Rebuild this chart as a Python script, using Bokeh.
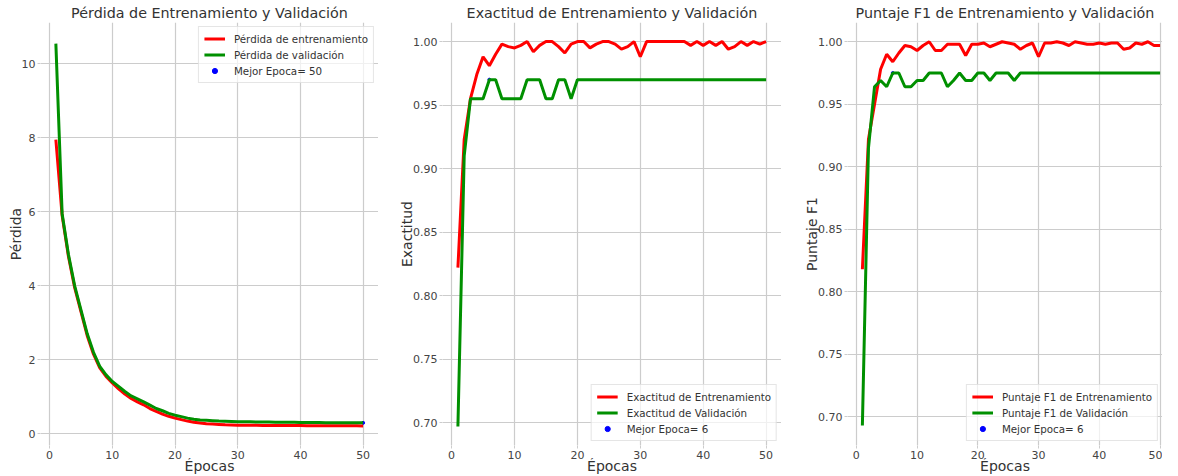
from bokeh.plotting import figure
from bokeh.layouts import row
from bokeh.models import Range1d, FixedTicker, Legend, LegendItem, NumeralTickFormatter
from bokeh.embed import file_html
from bokeh.resources import INLINE

# ---------------- data ----------------
epochs = list(range(1, 51))

train_loss = [7.95, 5.90, 4.80, 3.95, 3.30, 2.65, 2.15, 1.78, 1.55, 1.37,
              1.21, 1.07, 0.95, 0.86, 0.78, 0.68, 0.60, 0.53, 0.47, 0.42,
              0.38, 0.34, 0.31, 0.29, 0.27, 0.26, 0.25, 0.24, 0.235, 0.23,
              0.228, 0.226, 0.225, 0.224, 0.223, 0.222, 0.221, 0.22, 0.219, 0.218,
              0.217, 0.216, 0.215, 0.214, 0.213, 0.212, 0.212, 0.211, 0.211, 0.21]
val_loss = [10.55, 5.95, 4.85, 4.00, 3.35, 2.70, 2.20, 1.82, 1.59, 1.41,
            1.28, 1.14, 1.02, 0.94, 0.86, 0.77, 0.68, 0.62, 0.55, 0.50,
            0.46, 0.42, 0.39, 0.37, 0.36, 0.35, 0.34, 0.335, 0.33, 0.325,
            0.322, 0.32, 0.318, 0.316, 0.314, 0.312, 0.31, 0.308, 0.306, 0.304,
            0.302, 0.30, 0.299, 0.298, 0.297, 0.296, 0.295, 0.294, 0.293, 0.292]

train_acc = [0.822, 0.923, 0.955, 0.974, 0.988, 0.981, 0.990, 0.998, 0.996, 0.995,
             0.997, 1.000, 0.992, 0.997, 1.000, 1.000, 0.996, 0.991, 0.998, 1.000,
             1.000, 0.995, 0.998, 1.000, 1.000, 0.998, 0.994, 0.996, 1.000, 0.988,
             1.000, 1.000, 1.000, 1.000, 1.000, 1.000, 1.000, 0.997, 1.000, 0.997,
             1.000, 0.997, 1.000, 0.994, 0.996, 1.000, 0.997, 1.000, 0.998, 1.000]
val_acc = [0.697, 0.910, 0.955, 0.955, 0.955, 0.970, 0.970, 0.955, 0.955, 0.955,
           0.955, 0.970, 0.970, 0.970, 0.955, 0.955, 0.970, 0.970, 0.955, 0.970,
           0.970, 0.970, 0.970, 0.970, 0.970, 0.970, 0.970, 0.970, 0.970, 0.970,
           0.970, 0.970, 0.970, 0.970, 0.970, 0.970, 0.970, 0.970, 0.970, 0.970,
           0.970, 0.970, 0.970, 0.970, 0.970, 0.970, 0.970, 0.970, 0.970, 0.970]

train_f1 = [0.818, 0.922, 0.950, 0.978, 0.990, 0.984, 0.991, 0.997, 0.996, 0.993,
            0.997, 1.000, 0.993, 0.993, 0.998, 0.998, 0.998, 0.989, 0.998, 0.998,
            0.999, 0.996, 0.998, 1.000, 0.999, 0.998, 0.994, 0.997, 0.999, 0.988,
            0.999, 0.999, 1.000, 0.999, 0.997, 1.000, 0.999, 0.998, 0.998, 0.999,
            0.998, 0.999, 0.999, 0.994, 0.995, 0.999, 0.998, 1.000, 0.997, 0.997]
val_f1 = [0.693, 0.915, 0.964, 0.969, 0.964, 0.975, 0.975, 0.964, 0.964, 0.969,
          0.969, 0.975, 0.975, 0.975, 0.964, 0.969, 0.975, 0.969, 0.969, 0.975,
          0.975, 0.969, 0.975, 0.975, 0.975, 0.969, 0.975, 0.975, 0.975, 0.975,
          0.975, 0.975, 0.975, 0.975, 0.975, 0.975, 0.975, 0.975, 0.975, 0.975,
          0.975, 0.975, 0.975, 0.975, 0.975, 0.975, 0.975, 0.975, 0.975, 0.975]

best_loss_epoch = 50
best_acc_epoch = 6
best_f1_epoch = 6

x_ticks = [0, 10, 20, 30, 40, 50]
loss_ticks = [0, 2, 4, 6, 8, 10]
score_ticks = [0.70, 0.75, 0.80, 0.85, 0.90, 0.95, 1.00]

# ---------------- styling helpers ----------------
FONT = "DejaVu Sans"
RED = "#ff0000"
GREEN = "#009000"
GRID = "#cccccc"


def make_fig(title, width, left, right, x_end, y_range, ylabel, yticks, fmt=None):
    p = figure(width=width, height=476, title=title,
               x_range=Range1d(-1.45, x_end), y_range=Range1d(*y_range),
               output_backend="svg", toolbar_location=None,
               min_border_left=left, min_border_right=right,
               min_border_top=0, min_border_bottom=0)
    p.title.text_font = FONT
    p.title.text_font_size = "14.3px"
    p.title.text_font_style = "normal"
    p.title.text_color = "#333333"
    p.title.align = "center"
    p.title.standoff = 4
    p.outline_line_color = None
    p.background_fill_color = "white"
    p.border_fill_color = "white"
    p.grid.grid_line_color = GRID
    p.grid.grid_line_width = 1.2
    p.xaxis.ticker = FixedTicker(ticks=x_ticks)
    p.yaxis.ticker = FixedTicker(ticks=yticks)
    if fmt:
        p.yaxis.formatter = NumeralTickFormatter(format=fmt)
    p.xaxis.axis_label = "Épocas"
    p.yaxis.axis_label = ylabel
    for ax in (p.xaxis[0], p.yaxis[0]):
        ax.axis_line_color = None
        ax.major_tick_line_color = GRID
        ax.major_tick_out = 3
        ax.major_tick_in = 0
        ax.minor_tick_line_color = None
        ax.major_label_text_font = FONT
        ax.major_label_text_font_size = "11px"
        ax.major_label_text_color = "#444444"
        ax.major_label_standoff = 2
        ax.axis_label_text_font = FONT
        ax.axis_label_text_font_size = "14px"
        ax.axis_label_text_font_style = "normal"
        ax.axis_label_text_color = "#333333"
    p.xaxis.axis_label_standoff = -4
    p.yaxis.axis_label_standoff = -5
    return p


def add_series(p, tr, va, best, labels, loc):
    r3 = p.scatter([best], [va[best - 1]], size=3, color="blue")
    r1 = p.line(epochs, tr, line_color=RED, line_width=3)
    r2 = p.line(epochs, va, line_color=GREEN, line_width=3)
    leg = Legend(items=[LegendItem(label=labels[0], renderers=[r1]),
                        LegendItem(label=labels[1], renderers=[r2]),
                        LegendItem(label=labels[2], renderers=[r3])],
                 location=loc)
    leg.label_text_font = FONT
    leg.label_text_font_size = "10.3px"
    leg.label_text_color = "#333333"
    leg.glyph_width = 21
    leg.glyph_height = 13
    leg.label_height = 13
    leg.spacing = 3
    leg.padding = 5
    leg.margin = 4
    leg.label_standoff = 9
    leg.border_line_color = GRID
    leg.background_fill_color = "white"
    leg.background_fill_alpha = 0.7
    p.add_layout(leg)


p1 = make_fig("Pérdida de Entrenamiento y Validación", 378, 40, 0, 52.45,
              (-0.32, 11.12), "Pérdida", loss_ticks)
add_series(p1, train_loss, val_loss, best_loss_epoch,
           ["Pérdida de entrenamiento", "Pérdida de validación",
            "Mejor Epoca= " + str(best_loss_epoch)], "top_right")

p2 = make_fig("Exactitud de Entrenamiento y Validación", 403, 64, 0, 52.45,
              (0.682, 1.015), "Exactitud", score_ticks, "0.00")
add_series(p2, train_acc, val_acc, best_acc_epoch,
           ["Exactitud de Entrenamiento", "Exactitud de Validación",
            "Mejor Epoca= " + str(best_acc_epoch)], "bottom_right")

p3 = make_fig("Puntaje F1 de Entrenamiento y Validación", 381, 66, 0, 50.4,
              (0.677, 1.0154), "Puntaje F1", score_ticks, "0.00")
p3.title.offset = 12
add_series(p3, train_f1, val_f1, best_f1_epoch,
           ["Puntaje F1 de Entrenamiento", "Puntaje F1 de Validación",
            "Mejor Epoca= " + str(best_f1_epoch)], "bottom_right")

layout = row(p1, p2, p3)
open("out.html", "w").write(file_html(layout, INLINE))
